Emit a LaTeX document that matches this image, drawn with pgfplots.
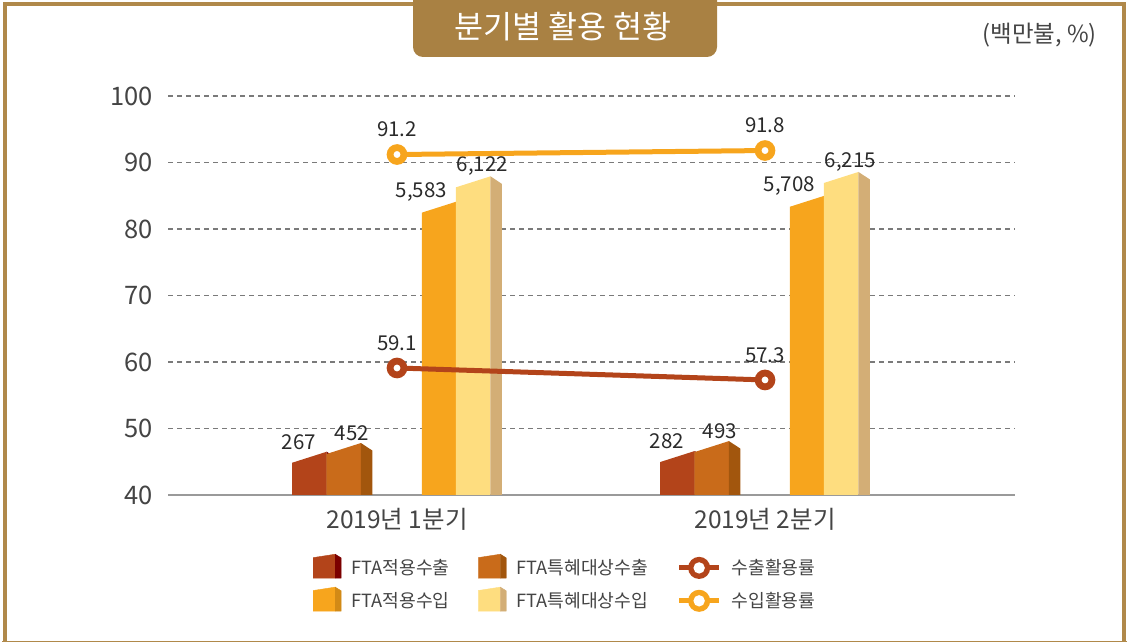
\documentclass[border=0pt]{standalone}
\usepackage{pgfplots}
\pgfplotsset{compat=1.18}
\usepackage{pgfplotstable}
\usepackage{fontspec}
\setmainfont{Noto Sans CJK KR}
\newcommand\fs[1]{\fontsize{#1}{#1}\selectfont}

\definecolor{framec}{HTML}{B0894A}
\definecolor{titlec}{HTML}{A98143}
\definecolor{labc}{HTML}{444444}
\definecolor{valc}{HTML}{2A2A2A}
\definecolor{gridc}{HTML}{7A7A7A}
\definecolor{axc}{HTML}{9A9A9A}
\definecolor{aF}{HTML}{B3441A}\definecolor{aS}{HTML}{7B0000}
\definecolor{bF}{HTML}{C96B1A}\definecolor{bS}{HTML}{A2560D}
\definecolor{cF}{HTML}{F7A51D}\definecolor{cS}{HTML}{D28A16}
\definecolor{dF}{HTML}{FEDD7F}\definecolor{dS}{HTML}{D3AE76}
\definecolor{expc}{HTML}{B3441A}
\definecolor{impc}{HTML}{F7A51D}

% 3D bar mark: data point = top right corner of the front face
\newcommand\defbar[3]{%
\pgfdeclareplotmark{#1}{%
  \pgfpathmoveto{\pgfqpoint{-34.5pt}{-11pt}}%
  \pgfpathlineto{\pgfqpoint{0pt}{0pt}}%
  \pgfpathlineto{\pgfqpoint{0pt}{-700pt}}%
  \pgfpathlineto{\pgfqpoint{-34.5pt}{-700pt}}%
  \pgfpathclose
  \pgfsetfillcolor{#2}\pgfusepath{fill}%
  \pgfpathmoveto{\pgfqpoint{0pt}{0pt}}%
  \pgfpathlineto{\pgfqpoint{11.5pt}{-7.6pt}}%
  \pgfpathlineto{\pgfqpoint{11.5pt}{-700pt}}%
  \pgfpathlineto{\pgfqpoint{0pt}{-700pt}}%
  \pgfpathclose
  \pgfsetfillcolor{#3}\pgfusepath{fill}%
}}
\defbar{barA}{aF}{aS}
\defbar{barB}{bF}{bS}
\defbar{barC}{cF}{cS}
\defbar{barD}{dF}{dS}

\pgfplotstableread{
q s1 s2 s3 s4 er ir
1 267 452 5583 6122 59.1 91.2
2 282 493 5708 6215 57.3 91.8
}\data

\pgfplotsset{
  baricon/.style 2 args={legend image code/.code={
    \fill[#1] (0pt,-10.3pt) -- (0pt,10.3pt) -- (22pt,13.7pt) -- (22pt,-10.3pt) -- cycle;
    \fill[#2] (22pt,13.7pt) -- (28pt,10pt) -- (28pt,-10.3pt) -- (22pt,-10.3pt) -- cycle;
  }},
  lineicon/.style={legend image code/.code={
    \draw[line width=5pt, #1] (0pt,0pt) -- (40pt,0pt);
    \fill[#1] (20pt,0pt) circle (8.5pt);
    \fill[white] (20pt,0pt) circle (3pt);
  }},
  barplot/.style n args={3}{only marks, mark=#1, point meta=explicit,
    nodes near coords,
    every node near coord/.append style={anchor=center, xshift=#2, yshift=10pt,
      font=\fs{20.5}, text=valc, inner sep=0pt}},
  lineplot/.style={#1, line width=5pt, mark=*, mark size=6.9pt,
    mark options={fill=white, draw=#1, line width=6.8pt, solid},
    point meta=explicit, nodes near coords,
    every node near coord/.append style={anchor=center, yshift=25pt,
      font=\fs{20.5}, text=valc, inner sep=0pt}},
}

\begin{document}
\begin{tikzpicture}
\useasboundingbox (0,0) rectangle (1129pt,642pt);
% frame
\draw[framec, line width=4pt] (4.7pt,1pt) -- (4.7pt,637.5pt) -- (1124.3pt,637.5pt) -- (1124.3pt,-1pt);
\draw[framec, line width=4pt] (2pt,-0.8pt) -- (1127pt,-0.8pt);
% title box
\fill[titlec] (413pt,642pt) {[rounded corners=10pt] -- (413pt,585pt) -- (717pt,585pt)} -- (717pt,642pt) -- cycle;
\node[text=white, font=\fs{31.5}, inner sep=0pt] at (563pt,615.3pt) {분기별 활용 현황};
\node[text=labc, font=\fs{23.5}, inner sep=0pt, anchor=east] at (1097pt,607pt) {(백만불, \%)};

\begin{axis}[
  at={(168pt,147pt)}, anchor=south west,
  scale only axis, width=847pt, height=399pt,
  xmin=0.3777, xmax=2.6793, ymin=40, ymax=100,
  xtick={1,2}, xticklabels={2019년 1분기,2019년 2분기},
  ytick={40,50,...,100},
  major tick length=0pt,
  axis x line*=bottom, axis y line*=left,
  y axis line style={draw=none},
  x axis line style={draw=axc, line width=2pt},
  ymajorgrids,
  grid style={draw=gridc, line width=1.2pt, dash pattern=on 5pt off 4pt},
  /pgf/number format/assume math mode=true,
  ticklabel style={text=labc, inner sep=0pt},
  yticklabel style={font=\fs{25.5}, xshift=-15pt},
  xticklabel style={font=\fs{24.5}, anchor=north, yshift=-13pt},
  clip marker paths=true,
  legend columns=2, transpose legend,
  legend cell align=left,
  legend style={at={(0.1712,-0.1479)}, anchor=north west, draw=none, fill=none,
    inner sep=0pt, outer sep=0pt, row sep=8pt,
    font=\fs{18.2}, text=labc,
    nodes={inner sep=0pt},
    /tikz/every odd column/.append style={column sep=10pt},
    /tikz/every even column/.append style={column sep=28.5pt}},
]
\addplot[barplot={barA}{-28pt}{}, baricon={aF}{aS}]
  table[x expr=\thisrow{q}-0.191, y expr=44.62+0.007073*\thisrow{s1}, meta=s1] {\data};
\addlegendentry{FTA적용수출}
\addplot[barplot={barC}{-35pt}{}, baricon={cF}{cS}]
  table[x expr=\thisrow{q}+0.161, y expr=44.62+0.007073*\thisrow{s3}, meta=s3] {\data};
\addlegendentry{FTA적용수입}
\addplot[barplot={barB}{-9pt}{}, baricon={bF}{bS}]
  table[x expr=\thisrow{q}-0.098, y expr=44.62+0.007073*\thisrow{s2}, meta=s2] {\data};
\addlegendentry{FTA특혜대상수출}
\addplot[barplot={barD}{-8pt}{}, baricon={dF}{dS}]
  table[x expr=\thisrow{q}+0.254, y expr=44.62+0.007073*\thisrow{s4}, meta=s4] {\data};
\addlegendentry{FTA특혜대상수입}
\addplot[lineplot=expc, lineicon=expc] table[x=q, y=er, meta=er] {\data};
\addlegendentry{수출활용률}
\addplot[lineplot=impc, lineicon=impc] table[x=q, y=ir, meta=ir] {\data};
\addlegendentry{수입활용률}
\end{axis}
\end{tikzpicture}
\end{document}
